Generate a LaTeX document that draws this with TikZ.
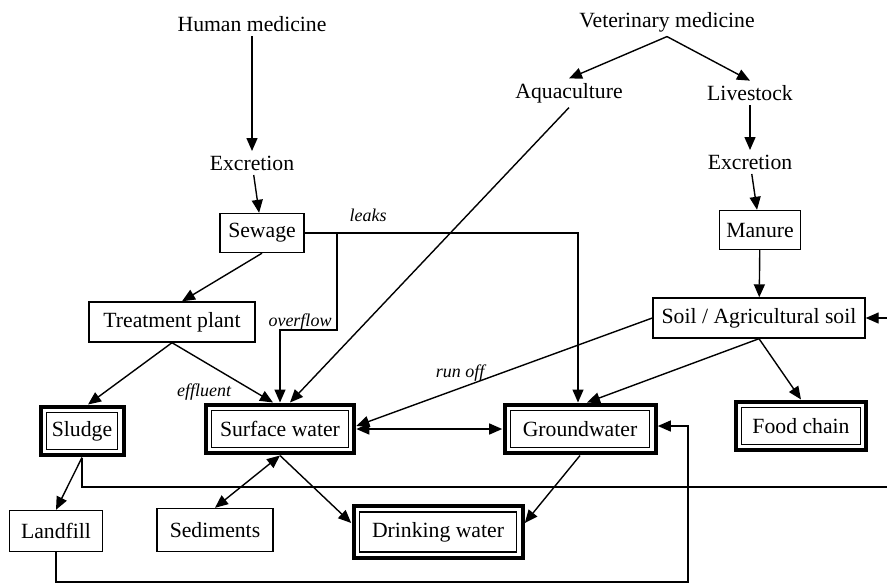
\documentclass[tikz,border=0pt]{standalone}
\usepackage{fontspec}
\setmainfont{Liberation Serif}
\usetikzlibrary{arrows.meta}

\begin{document}
\begin{tikzpicture}[x=0.5pt, y=-0.5pt, line width=0.7pt, >={Triangle[length=6.5pt,width=5.5pt]},
            font=\fontsize{10.85}{13}\selectfont,
            txt/.style={inner sep=2pt},
            box/.style={draw, minimum height=19.5pt, inner sep=0pt},
            dbox/.style={draw, line width=0.6pt, minimum height=18.5pt, inner sep=0pt, outer sep=4pt},
            lbl/.style={font=\fontsize{9}{11}\selectfont\itshape, inner sep=1pt}]
            \clip (0,0) rectangle (887,584);
            \node[txt] (hm) at (252,24) {Human medicine};
            \node[txt] (ex1) at (252,163) {Excretion};
            \node[txt] (vm) at (667,22) {Veterinary medicine};
            \node[txt] (aq) at (569,93) {Aquaculture};
            \node[txt] (ls) at (750,93) {Livestock};
            \node[txt] (ex2) at (750,162) {Excretion};

            \node[box, minimum width=42pt] (sew) at (262,233) {Sewage};
            \node[box, minimum width=83pt, minimum height=20pt] (tp) at (172,322) {Treatment plant};
            \node[box, minimum width=40.5pt] (man) at (760,230) {Manure};
            \node[box, minimum width=106pt, minimum height=20pt] (soil) at (759,318) {Soil / Agricultural soil};
            \node[box, minimum width=46.5pt, minimum height=20.5pt] (lf) at (56,531) {Landfill};
            \node[box, minimum width=58pt, minimum height=21.5pt] (sed) at (215,530) {Sediments};

            \node[dbox, minimum width=35.8pt] (sl) at (82,431) {Sludge};
            \node[dbox, minimum width=68.3pt] (sw) at (280,429) {Surface water};
            \node[dbox, minimum width=69.8pt] (gw) at (580,429) {Groundwater};
            \node[dbox, minimum width=59.3pt] (fc) at (801,426) {Food chain};
            \node[dbox, minimum width=78.8pt, minimum height=20pt] (dw) at (438,532) {Drinking water};
            %thick outer frame of the double boxes
            \foreach \n in {sl,sw,gw,fc,dw}
                \draw[line width=2pt] ([shift={(1.15pt,-1.15pt)}]\n.north west) rectangle ([shift={(-1.15pt,1.15pt)}]\n.south east);

            \node[lbl] (leaks) at (368,215) {leaks};
            \node[lbl] (ovfl) at (300,322) {overflow};
            \node[lbl] (eff) at (204,392) {effluent};
            \node[lbl] (roff) at (460,373) {run off};
            \coordinate (ovf) at (337,233);

            \draw[->] (hm) -- (ex1);
            \draw[->] (ex1) -- (sew);
            \draw[->] (vm.south) -- (aq.north);
            \draw[->] (vm.south) -- (ls.north);
            \draw[->] (ls) -- (ex2);
            \draw[->] (ex2) -- (man);
            \draw[->] (man) -- (soil);
            \draw[->] (aq.south) -- ([xshift=5pt]sw.north);
            \draw[->] (sew.south) -- ([xshift=5pt]tp.north);
            \draw[->] (sew.east) -| ([xshift=-1pt]gw.north);
            \draw[->] (ovf) -- ++(0,97) -| (sw.north);
            \draw[->] (tp.south) -- ([xshift=3pt]sl.north);
            \draw[->] (tp.south) -- ([xshift=-3.5pt]sw.north);
            \draw[->] (soil.west) -- ([yshift=1.5pt]sw.east);
            \draw[<->] (sw) -- (gw);
            \draw[->] (soil.south) -- ([xshift=3.5pt]gw.north);
            \draw[->] (soil.south) -- (fc.north);
            \draw[->] (sl.south) |- (900,487) |- (soil.east);
            \draw[->] (sl.south) -- (lf.north);
            \draw[->] (lf.south) |- (688,582) |- ([yshift=1.5pt]gw.east);
            \draw[<->] (sw.south) -- (sed.north);
            \draw[->] (sw.south) -- ([yshift=4.5pt]dw.west);
            \draw[->] (gw.south) -- ([yshift=4.5pt]dw.east);
        \end{tikzpicture}
\end{document}
